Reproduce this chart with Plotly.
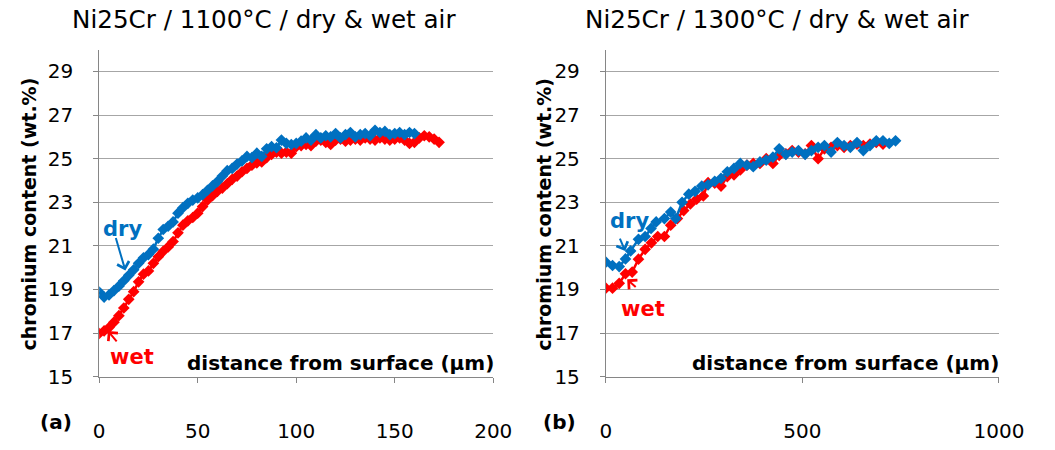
import plotly.graph_objects as go

# ---- data: panel (a) 1100 °C ----
a_dry_x = [0, 2.5, 5, 7.5, 10, 12.5, 15, 17.5, 20, 22.5, 25, 27.5, 30, 32.5, 35, 37.5, 40, 42.5, 45, 47.5,
           50, 52.5, 55, 57.5, 60, 62.5, 65, 67.5, 70, 72.5, 75, 77.5, 80, 82.5, 85, 87.5, 90, 92.5, 95, 97.5,
           100, 102.5, 105, 107.5, 110, 112.5, 115, 117.5, 120, 122.5, 125, 127.5, 130, 132.5, 135, 137.5,
           140, 142.5, 145, 147.5, 150, 152.5, 155, 157.5, 160]
a_dry_y = [18.88, 18.65, 18.75, 18.95, 19.15, 19.4, 19.65, 19.9, 20.2, 20.45, 20.6, 20.85, 21.35, 21.75, 21.9,
           22.1, 22.5, 22.75, 22.95, 23.1, 23.2, 23.35, 23.55, 23.75, 23.95, 24.2, 24.45, 24.55, 24.75, 24.9,
           25.1, 25.05, 25.25, 25.1, 25.45, 25.55, 25.5, 25.85, 25.7, 25.65, 25.7, 25.8, 25.95, 25.85, 26.1,
           25.95, 26.05, 26.0, 26.15, 25.95, 26.1, 26.2, 26.0, 26.1, 26.15, 26.05, 26.3, 26.2, 26.25, 26.1,
           26.15, 26.2, 26.1, 26.2, 26.15]
a_wet_x = [0, 2.5, 5, 7.5, 10, 12.5, 15, 17.5, 20, 22.5, 25, 27.5, 30, 32.5, 35, 37.5, 40, 42.5, 45, 47.5,
           50, 52.5, 55, 57.5, 60, 62.5, 65, 67.5, 70, 72.5, 75, 77.5, 80, 82.5, 85, 87.5, 90, 92.5, 95, 97.5,
           100, 102.5, 105, 107.5, 110, 112.5, 115, 117.5, 120, 122.5, 125, 127.5, 130, 132.5, 135, 137.5,
           140, 142.5, 145, 147.5, 150, 152.5, 155, 157.5, 160, 162.5, 165, 167.5, 170, 172.5]
a_wet_y = [16.98, 17.1, 17.25, 17.5, 17.8, 18.15, 18.55, 18.9, 19.35, 19.7, 19.85, 20.2, 20.5, 20.75, 20.95,
           21.2, 21.6, 21.95, 22.15, 22.3, 22.5, 22.8, 23.1, 23.3, 23.5, 23.65, 23.85, 24.05, 24.2, 24.4,
           24.55, 24.7, 24.8, 24.85, 25.05, 25.2, 25.3, 25.25, 25.3, 25.25, 25.55, 25.6, 25.65, 25.6, 25.8,
           25.85, 25.75, 25.65, 25.85, 25.9, 25.8, 25.85, 25.9, 25.85, 25.95, 25.9, 25.85, 25.95, 25.9, 25.85,
           25.9, 25.95, 25.85, 25.7, 25.75, 25.95, 26.05, 26.0, 25.9, 25.75]

# ---- data: panel (b) 1300 °C ----
b_dry_x = [0, 17, 34, 50, 63, 83, 100, 115, 128, 149, 165, 178, 194, 211, 227, 244, 260, 277, 293, 309,
           326, 342, 359, 375, 392, 408, 425, 441, 458, 474, 490, 507, 523, 540, 556, 573, 589, 606, 622,
           639, 655, 672, 688, 705, 721, 737]
b_dry_y = [20.25, 20.1, 20.05, 20.4, 20.77, 21.3, 21.43, 21.8, 22.1, 22.25, 22.55, 22.25, 23.0, 23.37, 23.5,
           23.74, 23.8, 23.96, 24.1, 24.4, 24.55, 24.78, 24.7, 24.63, 24.85, 24.93, 25.07, 25.45, 25.2, 25.3,
           25.37, 25.2, 25.37, 25.52, 25.6, 25.3, 25.74, 25.6, 25.52, 25.74, 25.37, 25.6, 25.82, 25.82, 25.7,
           25.82]
b_wet_x = [0, 17, 34, 50, 67, 83, 100, 116, 132, 149, 165, 182, 198, 215, 231, 248, 260, 277, 293, 309,
           326, 342, 359, 375, 392, 408, 425, 441, 458, 474, 490, 507, 523, 540, 556, 573, 589, 606, 622,
           639, 655, 672, 688, 705]
b_wet_y = [19.06, 19.06, 19.28, 19.72, 19.8, 20.39, 20.84, 21.14, 21.43, 21.43, 21.95, 22.25, 22.62, 22.92,
           23.14, 23.29, 23.9, 23.88, 23.74, 24.18, 24.26, 24.48, 24.7, 24.78, 24.78, 25.0, 24.78, 25.15,
           25.22, 25.37, 25.3, 25.22, 25.6, 25.0, 25.45, 25.52, 25.6, 25.52, 25.6, 25.67, 25.6, 25.67, 25.74,
           25.67]

y_ticks = [15, 17, 19, 21, 23, 25, 27, 29]
a_x_ticks = [0, 50, 100, 150, 200]
b_x_ticks = [0, 500, 1000]

BLUE = "#0070C0"
RED = "#FF0000"
FONT = "DejaVu Sans, sans-serif"

W, H = 1055, 450


def px(x):
    return x / W


def py(y):
    return 1 - y / H


fig = go.Figure()


def add_series(xs, ys, color, xa, ya):
    fig.add_trace(go.Scatter(
        x=xs, y=ys, mode="lines+markers", xaxis=xa, yaxis=ya,
        line=dict(color=color, width=2.5),
        marker=dict(symbol="diamond", size=9, color=color),
        showlegend=False, hoverinfo="x+y"))


add_series(a_wet_x, a_wet_y, RED, "x", "y")
add_series(a_dry_x, a_dry_y, BLUE, "x", "y")
add_series(b_wet_x, b_wet_y, RED, "x2", "y2")
add_series(b_dry_x, b_dry_y, BLUE, "x2", "y2")

ydom = [py(387), py(51)]
axis_common = dict(
    showline=True, linecolor="#868686", linewidth=1,
    ticks="outside", ticklen=5, tickcolor="#868686",
    tickfont=dict(family=FONT, size=20, color="black"),
    zeroline=False,
)

fig.update_layout(
    width=W, height=H, autosize=False,
    margin=dict(l=0, r=0, t=0, b=0),
    paper_bgcolor="white", plot_bgcolor="white",
    font=dict(family=FONT, color="black"),
    xaxis=dict(domain=[px(96), px(502)], range=[0, 200], tickvals=a_x_ticks,
               showgrid=False, anchor="y", ticklabelstandoff=31, **axis_common),
    yaxis=dict(domain=ydom, range=[15, 30], tickvals=y_ticks, anchor="x",
               showgrid=True, gridcolor="#A6A6A6", gridwidth=1, ticklabelstandoff=16, **axis_common),
    xaxis2=dict(domain=[px(618), px(1023)], range=[0, 1000], tickvals=b_x_ticks,
                showgrid=False, anchor="y2", ticklabelstandoff=31, **axis_common),
    yaxis2=dict(domain=ydom, range=[15, 30], tickvals=y_ticks, anchor="x2",
                showgrid=True, gridcolor="#A6A6A6", gridwidth=1, ticklabelstandoff=16, **axis_common),
)

ann = []


def text(x, y, t, size, color="black", bold=False, xanchor="center", angle=0):
    ann.append(dict(x=px(x), y=py(y), xref="paper", yref="paper", text=("<b>%s</b>" % t) if bold else t,
                    showarrow=False, xanchor=xanchor, yanchor="middle", textangle=angle,
                    font=dict(family=FONT, size=size, color=color)))


def arrow(x0, y0, x1, y1, color):
    ann.append(dict(x=px(x1), y=py(y1), xref="paper", yref="paper", ax=x0 - x1, ay=y0 - y1,
                    axref="pixel", ayref="pixel", text="", showarrow=True, arrowhead=4,
                    arrowsize=1.2, arrowwidth=2, arrowcolor=color))


# titles
text(266, 20, "Ni25Cr / 1100°C / dry &amp; wet air", 24.6)
text(794, 20, "Ni25Cr / 1300°C / dry &amp; wet air", 24.6)
# y titles
text(24, 220, "chromium content (wt.%)", 19, bold=True, angle=-90)
text(554, 220, "chromium content (wt.%)", 19, bold=True, angle=-90)
# x titles
text(505, 373, "distance from surface (µm)", 20, bold=True, xanchor="right")
text(1025, 373, "distance from surface (µm)", 20, bold=True, xanchor="right")
# panel letters
text(52, 434, "(a)", 20, bold=True)
text(570, 434, "(b)", 20, bold=True)
# dry / wet labels
text(120, 235, "dry", 21, BLUE, bold=True)
arrow(113, 244, 123, 278, BLUE)
text(130, 367, "wet", 21, RED, bold=True)
arrow(115, 352, 105, 340, RED)
text(642, 227, "dry", 21, BLUE, bold=True)
arrow(632, 244, 638, 258, BLUE)
text(656, 317, "wet", 21, RED, bold=True)
arrow(650, 296, 640, 287, RED)

fig.update_layout(annotations=ann)
fig.write_html(
    "out.html",
    config={"responsive": False, "displayModeBar": False},
    post_script="document.body.style.margin='0px';document.body.style.overflow='hidden';",
)
